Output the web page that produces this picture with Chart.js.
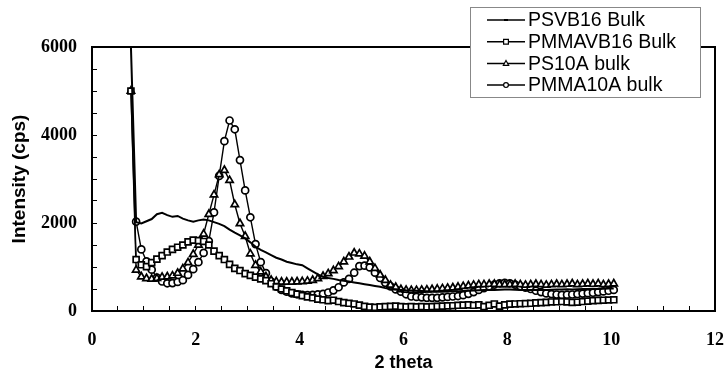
<!DOCTYPE html>
<html>
<head>
<meta charset="utf-8">
<script src="https://cdn.jsdelivr.net/npm/chart.js"></script>
<style>
  body { margin: 0; background: #fff; }
  canvas { display: block; }
</style>
</head>
<body>
<canvas id="myChart" width="726" height="372"></canvas>
<script>
// 2 theta positions shared by all four scans
const twoTheta = [
  0.75, 0.85, 0.95, 1.05, 1.15, 1.25, 1.35, 1.45, 1.55, 1.65,
  1.75, 1.85, 1.95, 2.05, 2.15, 2.25, 2.35, 2.45, 2.55, 2.65,
  2.75, 2.85, 2.95, 3.05, 3.15, 3.25, 3.35, 3.45, 3.55, 3.65,
  3.75, 3.85, 3.95, 4.05, 4.15, 4.25, 4.35, 4.45, 4.55, 4.65,
  4.75, 4.85, 4.95, 5.05, 5.15, 5.25, 5.35, 5.45, 5.55, 5.65,
  5.75, 5.85, 5.95, 6.05, 6.15, 6.25, 6.35, 6.45, 6.55, 6.65,
  6.75, 6.85, 6.95, 7.05, 7.15, 7.25, 7.35, 7.45, 7.55, 7.65,
  7.75, 7.85, 7.95, 8.05, 8.15, 8.25, 8.35, 8.45, 8.55, 8.65,
  8.75, 8.85, 8.95, 9.05, 9.15, 9.25, 9.35, 9.45, 9.55, 9.65,
  9.75, 9.85, 9.95, 10.05
];

const psvb16 = [
  6000, 2020, 1990, 2040, 2090, 2200, 2230, 2180, 2140, 2160,
  2100, 2060, 2030, 2060, 2080, 2060, 2020, 1980, 1930, 1850,
  1780, 1720, 1650, 1560, 1460, 1390, 1330, 1270, 1210, 1170,
  1120, 1090, 1060, 1040, 970, 900, 830, 780, 750, 730,
  705, 690, 670, 650, 630, 610, 590, 570, 550, 520,
  500, 490, 480, 470, 465, 460, 455, 450, 445, 440,
  440, 445, 450, 450, 455, 460, 465, 470, 475, 480,
  480, 485, 490, 490, 485, 480, 480, 475, 480, 485,
  480, 485, 490, 490, 495, 490, 495, 500, 500, 505,
  500, 505, 510, 510
];

const pmmavb16 = [
  5000, 1170, 1050, 1010, 1100, 1180, 1260, 1340, 1400, 1450,
  1500, 1570, 1610, 1600, 1580, 1500, 1360, 1260, 1170, 1060,
  970, 920, 850, 810, 770, 730, 690, 620, 550, 500,
  460, 420, 385, 350, 320, 300, 270, 255, 235, 245,
  215, 190, 175, 160, 135, 105, 90, 85, 95, 100,
  105, 110, 100, 95, 100, 95, 100, 95, 100, 105,
  110, 115, 120, 130, 135, 140, 130, 140, 100, 130,
  160, 110, 140, 155, 160, 165, 170, 175, 185, 190,
  195, 205, 210, 215, 205, 195, 200, 215, 225, 235,
  240, 245, 250, 255
];

const ps10a = [
  5000, 930, 780, 740, 727, 742, 770, 780, 800, 860,
  960, 1100, 1290, 1500, 1750, 2200, 2640, 3100, 3200, 2970,
  2420, 1990, 1700, 1300, 1040, 890, 780, 700, 670, 660,
  660, 660, 665, 670, 680, 700, 740, 790, 850, 920,
  1010, 1120, 1230, 1320, 1300, 1250, 1120, 970, 820, 700,
  590, 540, 490, 475, 470, 470, 475, 480, 490, 500,
  510, 520, 530, 545, 560, 575, 590, 600, 600, 610,
  610, 600, 600, 600, 610, 600, 590, 600, 610, 600,
  590, 600, 610, 600, 610, 620, 600, 610, 620, 610,
  620, 600, 610, 620
];

const pmma10a = [
  null, 2030, 1400, 1130, 940, 760, 670, 630, 635, 660,
  700, 820, 950, 1110, 1320, 1590, 2240, 3070, 3860, 4330,
  4130, 3430, 2740, 2130, 1520, 1110, 860, 670, 555, 480,
  440, 400, 380, 365, 362, 365, 380, 390, 420, 470,
  540, 650, 730, 870, 1020, 1030, 990, 870, 750, 640,
  560, 490, 440, 380, 330, 320, 310, 300, 300, 300,
  310, 320, 330, 340, 360, 390, 430, 480, 520, 560,
  600, 630, 640, 630, 600, 560, 530, 500, 460, 430,
  400, 385, 375, 365, 370, 375, 385, 395, 405, 415,
  430, 445, 460, 480
];

const seriesNames = ['PSVB16 Bulk', 'PMMAVB16 Bulk', 'PS10A bulk', 'PMMA10A bulk'];
const seriesMarks = ['dash', 'rect', 'triangle', 'circle'];

const toPoints = arr => twoTheta.map((x, i) => ({ x: x, y: arr[i] }));

const serif = '"Liberation Serif", "Times New Roman", serif';
const sans = '"Liberation Sans", Arial, sans-serif';

function drawMark(ctx, style, x, y, r) {
  ctx.beginPath();
  if (style === 'rect') {
    ctx.rect(x - r, y - r, 2 * r, 2 * r);
  } else if (style === 'triangle') {
    ctx.moveTo(x, y - r * 1.2);
    ctx.lineTo(x + r * 1.1, y + r * 0.8);
    ctx.lineTo(x - r * 1.1, y + r * 0.8);
    ctx.closePath();
  } else if (style === 'circle') {
    ctx.arc(x, y, r, 0, Math.PI * 2);
  } else {
    ctx.rect(x - 2, y - 1, 4, 2);
    ctx.fillStyle = '#000';
    ctx.fill();
    return;
  }
  ctx.fillStyle = '#fff';
  ctx.fill();
  ctx.stroke();
}

// top/right frame and the boxed legend
const frameAndLegend = {
  id: 'frameAndLegend',
  afterDatasetsDraw(chart) {
    const { ctx, chartArea: a } = chart;
    ctx.save();
    ctx.strokeStyle = '#000';
    ctx.lineWidth = 2;
    ctx.beginPath();
    ctx.moveTo(a.left, a.top);
    ctx.lineTo(a.right, a.top);
    ctx.lineTo(a.right, a.bottom);
    ctx.stroke();

    // legend box
    ctx.fillStyle = '#fff';
    ctx.fillRect(470, 7, 230, 90);
    ctx.strokeStyle = '#888';
    ctx.lineWidth = 1;
    ctx.strokeRect(470.5, 7.5, 230, 90);

    ctx.font = '19.5px ' + sans;
    ctx.textBaseline = 'middle';
    ctx.textAlign = 'left';
    seriesNames.forEach((name, i) => {
      const y = 20 + i * 21.7;
      ctx.strokeStyle = '#000';
      ctx.lineWidth = 1.5;
      ctx.beginPath();
      ctx.moveTo(487, y);
      ctx.lineTo(525, y);
      ctx.stroke();
      ctx.lineWidth = 1.2;
      drawMark(ctx, seriesMarks[i], 506, y, 2.4);
      ctx.fillStyle = '#000';
      ctx.fillText(name, 528, y + 1);
    });
    ctx.restore();
  }
};

const ctx = document.getElementById('myChart');
new Chart(ctx, {
  type: 'scatter',
  data: {
    datasets: [
      {
        label: seriesNames[0],
        data: toPoints(psvb16),
        showLine: true,
        borderColor: '#000',
        borderWidth: 2,
        pointRadius: 0
      },
      {
        label: seriesNames[1],
        data: toPoints(pmmavb16),
        showLine: true,
        borderColor: '#000',
        borderWidth: 1.4,
        pointStyle: 'rect',
        pointRadius: 4.2,
        pointBorderWidth: 1.7,
        pointBackgroundColor: '#fff',
        pointBorderColor: '#000'
      },
      {
        label: seriesNames[2],
        data: toPoints(ps10a),
        showLine: true,
        borderColor: '#000',
        borderWidth: 1.4,
        pointStyle: 'triangle',
        pointRadius: 4.2,
        pointBorderWidth: 1.7,
        pointBackgroundColor: '#fff',
        pointBorderColor: '#000'
      },
      {
        label: seriesNames[3],
        data: toPoints(pmma10a),
        showLine: true,
        borderColor: '#000',
        borderWidth: 1.4,
        pointStyle: 'circle',
        pointRadius: 3.5,
        pointBorderWidth: 1.7,
        pointBackgroundColor: '#fff',
        pointBorderColor: '#000'
      }
    ]
  },
  options: {
    responsive: false,
    animation: false,
    layout: { padding: { top: 47, right: 11, left: 0, bottom: 0 } },
    plugins: {
      legend: { display: false },
      tooltip: { enabled: false }
    },
    scales: {
      x: {
        type: 'linear',
        min: 0,
        max: 12,
        afterFit: s => { s.height = 61; s.paddingLeft = 0; s.paddingRight = 0; },
        ticks: {
          stepSize: 0.5,
          autoSkip: false,
          maxRotation: 0,
          padding: 24,
          color: '#000',
          font: { family: serif, size: 18, weight: 'bold' },
          callback: v => (v % 2 === 0 ? v : '')
        },
        grid: { drawOnChartArea: false, drawTicks: true, tickLength: -5, color: '#000' },
        border: { display: true, color: '#000', width: 2 },
        title: {
          display: true,
          text: '2 theta',
          color: '#000',
          font: { family: sans, size: 18, weight: 'bold', lineHeight: 1 },
          padding: { top: 0, bottom: 0 }
        }
      },
      y: {
        min: 0,
        max: 6000,
        afterFit: s => { s.width = 92; s.paddingTop = 0; s.paddingBottom = 0; },
        ticks: {
          stepSize: 500,
          autoSkip: false,
          padding: 20,
          color: '#000',
          font: { family: serif, size: 18, weight: 'bold' },
          callback: v => (v % 2000 === 0 ? v : '')
        },
        grid: { drawOnChartArea: false, drawTicks: true, tickLength: -5, color: '#000' },
        border: { display: true, color: '#000', width: 2 },
        title: {
          display: true,
          text: 'Intensity (cps)',
          color: '#000',
          font: { family: sans, size: 19, weight: 'bold' },
          padding: { top: 8.6, bottom: 0 }
        }
      }
    }
  },
  plugins: [frameAndLegend]
});
</script>
</body>
</html>
